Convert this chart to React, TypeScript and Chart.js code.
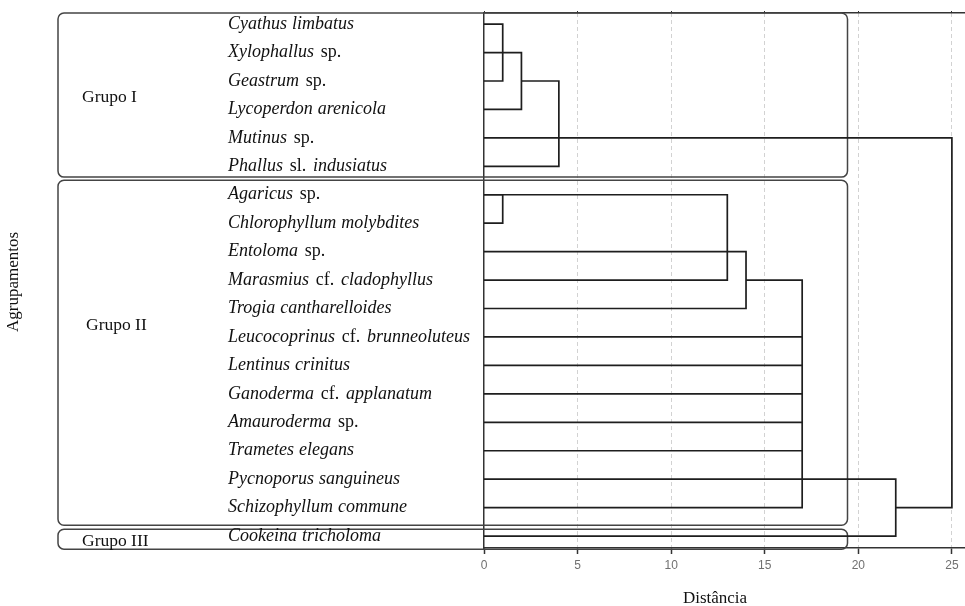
import React, { useEffect, useRef } from 'react';
import { Chart, registerables } from 'chart.js';

Chart.register(...registerables);

// ---------- data ----------
const leafNames = [
  'Cyathus limbatus',
  'Xylophallus sp.',
  'Geastrum sp.',
  'Lycoperdon arenicola',
  'Mutinus sp.',
  'Phallus sl. indusiatus',
  'Agaricus sp.',
  'Chlorophyllum molybdites',
  'Entoloma sp.',
  'Marasmius cf. cladophyllus',
  'Trogia cantharelloides',
  'Leucocoprinus cf. brunneoluteus',
  'Lentinus crinitus',
  'Ganoderma cf. applanatum',
  'Amauroderma sp.',
  'Trametes elegans',
  'Pycnoporus sanguineus',
  'Schizophyllum commune',
  'Cookeina tricholoma',
];

const groupNames = ['Grupo I', 'Grupo II', 'Grupo III'];
const groupFirstLeaf = [0, 6, 18];
const groupLastLeaf = [5, 17, 18];

const xTicks = [0, 5, 10, 15, 20, 25];
const xTitle = 'Distância';
const yTitle = 'Agrupamentos';

// dendrogram brackets: rows joined and the distance of the join
const bracketTopRow = [0, 1, 2, 6, 6, 8, 9, 16, 4];
const bracketBottomRow = [2, 3, 5, 7, 9, 10, 17, 18, 17];
const bracketHeight = [1, 2, 4, 1, 13, 14, 17, 22, 25];
const bracketTopFrom = [0, 0, 2, 0, 0, 0, 14, 0, 0];
const bracketBottomFrom = [0, 0, 0, 0, 0, 0, 0, 0, 22];
// leaves attached straight to the 17 join
const joinRows = [11, 12, 13, 14, 15];
const joinHeight = 17;

// ---------- layout constants ----------
const LABEL_X = 228;
const BOX_LEFT = 58;
const BOX_RIGHT = 847.5;
const BOX_PAD = [
  [-0.39, 0.38],
  [-0.51, 0.62],
  [-0.24, 0.46],
];
const GROUP_LABEL_ROW = [2.57, 10.58, 18.2];
const GROUP_LABEL_X = [82, 86, 82];
const SERIF = '"Liberation Serif", "Times New Roman", serif';
const UPRIGHT = ['sp.', 'cf.', 'sl.'];

function roundRectPath(ctx: CanvasRenderingContext2D, x: number, y: number, w: number, h: number, r: number) {
  const rr = Math.min(r, h / 2, w / 2);
  ctx.beginPath();
  ctx.moveTo(x + rr, y);
  ctx.lineTo(x + w - rr, y);
  ctx.arcTo(x + w, y, x + w, y + rr, rr);
  ctx.lineTo(x + w, y + h - rr);
  ctx.arcTo(x + w, y + h, x + w - rr, y + h, rr);
  ctx.lineTo(x + rr, y + h);
  ctx.arcTo(x, y + h, x, y + h - rr, rr);
  ctx.lineTo(x, y + rr);
  ctx.arcTo(x, y, x + rr, y, rr);
  ctx.closePath();
}

const dendroPlugin = {
  id: 'dendroDecor',
  beforeDatasetsDraw(chart: any) {
    const { ctx } = chart;
    const ys = chart.scales.y;
    ctx.save();
    ctx.strokeStyle = '#444';
    ctx.lineWidth = 1.5;
    groupNames.forEach((_, i) => {
      const top = ys.getPixelForValue(groupFirstLeaf[i] + BOX_PAD[i][0]);
      const bot = ys.getPixelForValue(groupLastLeaf[i] + BOX_PAD[i][1]);
      roundRectPath(ctx, BOX_LEFT, top, BOX_RIGHT - BOX_LEFT, bot - top, 6);
      ctx.stroke();
    });
    ctx.restore();
  },
  afterDraw(chart: any) {
    const { ctx } = chart;
    const ys = chart.scales.y;
    ctx.save();
    ctx.fillStyle = '#111';
    ctx.textBaseline = 'middle';
    ctx.textAlign = 'left';
    const size = 18;
    leafNames.forEach((name, i) => {
      const py = ys.getPixelForValue(i);
      let x = LABEL_X;
      const words = name.split(' ');
      words.forEach((w, k) => {
        const up = UPRIGHT.includes(w);
        ctx.font = `${up ? '' : 'italic '}${size}px ${SERIF}`;
        ctx.fillText(w, x, py);
        x += ctx.measureText(w).width;
        if (k < words.length - 1) {
          ctx.font = `${size}px ${SERIF}`;
          const nextUp = UPRIGHT.includes(words[k + 1]);
          x += ctx.measureText(' ').width * (up || nextUp ? 1.5 : 1.1);
        }
      });
    });
    ctx.font = `17.5px ${SERIF}`;
    groupNames.forEach((g, i) => {
      ctx.fillText(g, GROUP_LABEL_X[i], ys.getPixelForValue(GROUP_LABEL_ROW[i]));
    });
    // axis titles
    ctx.font = `17px ${SERIF}`;
    ctx.textAlign = 'center';
    ctx.fillText(xTitle, 715, 599);
    ctx.translate(14, 282);
    ctx.rotate(-Math.PI / 2);
    ctx.fillText(yTitle, 0, 0);
    ctx.restore();
  },
};

export default function App() {
  const ref = useRef<HTMLCanvasElement | null>(null);
  useEffect(() => {
    if (!ref.current) return;
    const lineStyle = {
      showLine: true,
      pointRadius: 0,
      pointHoverRadius: 0,
      borderColor: '#1e1e1e',
      borderWidth: 1.7,
      fill: false,
      tension: 0,
      borderJoinStyle: 'miter' as const,
      borderCapStyle: 'butt' as const,
    };
    const datasets: any[] = bracketTopRow.map((top, i) => ({
      ...lineStyle,
      label: `join ${bracketHeight[i]}`,
      data: [
        { x: bracketTopFrom[i], y: top },
        { x: bracketHeight[i], y: top },
        { x: bracketHeight[i], y: bracketBottomRow[i] },
        { x: bracketBottomFrom[i], y: bracketBottomRow[i] },
      ],
    }));
    joinRows.forEach((r) => {
      datasets.push({
        ...lineStyle,
        label: leafNames[r],
        data: [
          { x: 0, y: r },
          { x: joinHeight, y: r },
        ],
      });
    });

    const fixTicks = (s: any) => {
      s.ticks = xTicks.map((v) => ({ value: v }));
    };

    const chart = new Chart(ref.current, {
      type: 'scatter',
      data: { datasets },
      plugins: [dendroPlugin],
      options: {
        animation: false,
        responsive: false,
        devicePixelRatio: 1,
        layout: { padding: { left: 484, top: 13, right: 0, bottom: 0 } },
        plugins: { legend: { display: false }, tooltip: { enabled: false } },
        scales: {
          x: {
            type: 'linear',
            position: 'bottom',
            min: 0,
            max: 25.7,
            afterBuildTicks: fixTicks,
            afterFit: (s: any) => {
              s.height = 58;
            },
            grid: {
              color: (c: any) => (c.tick && c.tick.value === 0 ? 'rgba(0,0,0,0)' : '#d2d2d2'),
              lineWidth: 1,
              drawTicks: true,
              tickLength: 6,
              tickColor: '#333',
              tickWidth: 1.5,
              tickBorderDash: [],
            },
            border: { display: true, color: '#333', width: 1.5, dash: [4, 3] },
            ticks: {
              color: '#707070',
              font: { family: '"Liberation Sans", Arial, sans-serif', size: 12 },
              padding: 4,
              maxRotation: 0,
              autoSkip: false,
            },
            title: { display: false },
          },
          x2: {
            type: 'linear',
            position: 'top',
            min: 0,
            max: 25.7,
            afterBuildTicks: fixTicks,
            afterFit: (s: any) => {
              s.height = 0;
            },
            ticks: { display: false },
            grid: { drawOnChartArea: false, drawTicks: true, tickLength: 2, tickColor: '#333' },
            border: { display: true, color: '#333', width: 1.5 },
          },
          y: {
            type: 'linear',
            min: -0.39,
            max: 18.42,
            reverse: true,
            afterFit: (s: any) => {
              s.width = 0;
            },
            ticks: { display: false },
            grid: { display: false, drawTicks: false },
            border: { display: true, color: '#333', width: 1.5 },
          },
        },
      },
    });
    return () => chart.destroy();
  }, []);

  return (
    <div style={{ position: 'absolute', left: 0, top: 0, width: 965, height: 606, background: '#fff' }}>
      <canvas ref={ref} width={965} height={606} style={{ display: 'block' }} />
    </div>
  );
}
